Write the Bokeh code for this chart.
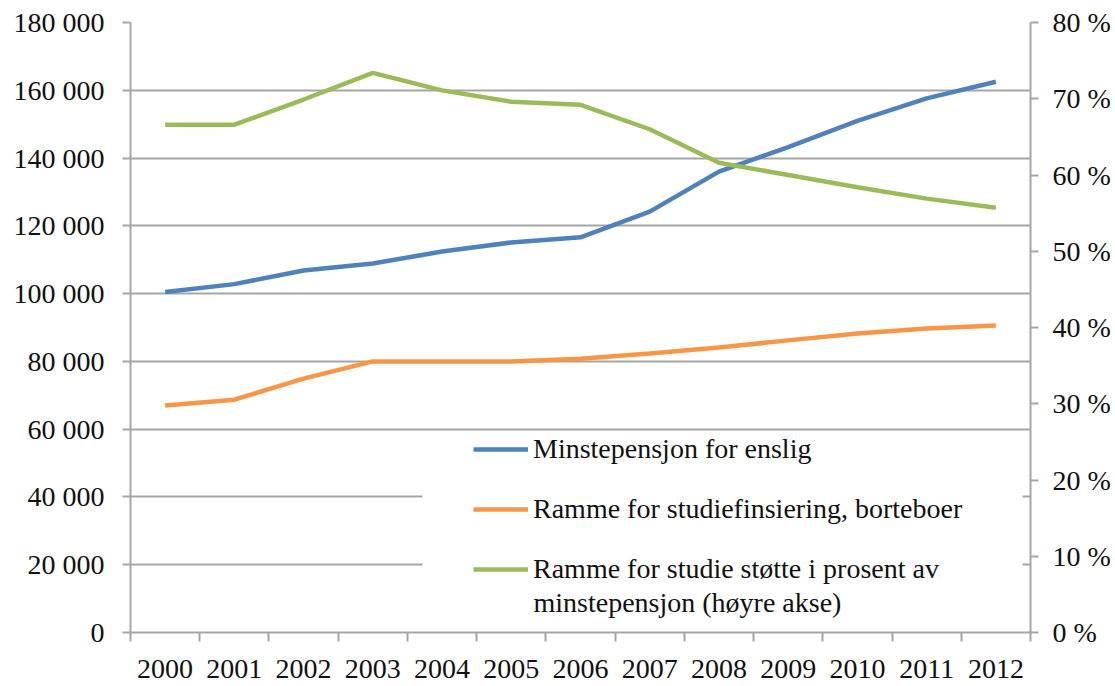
from bokeh.plotting import figure
from bokeh.models import (LinearAxis, Range1d, FixedTicker, Legend, LegendItem,
                          BoxAnnotation, Label)
from bokeh.embed import file_html
from bokeh.resources import INLINE

years = [2000, 2001, 2002, 2003, 2004, 2005, 2006, 2007, 2008, 2009, 2010, 2011, 2012]
minstepensjon = [100500, 102800, 106800, 108900, 112400, 115100, 116600,
                 124200, 136000, 143200, 151000, 157600, 162500]
studiefinansiering = [67000, 68700, 74900, 80000, 80000, 80000, 80800,
                      82300, 84100, 86200, 88200, 89700, 90600]
prosent = [66.6, 66.6, 69.9, 73.4, 71.1, 69.6, 69.2, 66.0, 61.6, 60.0, 58.4, 56.9, 55.7]

left_ticks = [0, 20000, 40000, 60000, 80000, 100000, 120000, 140000, 160000, 180000]
right_ticks = [0, 10, 20, 30, 40, 50, 60, 70, 80]

labels = ["Minstepensjon for enslig",
          "Ramme for studiefinsiering, borteboer",
          "Ramme for studie støtte i prosent av",
          "minstepensjon (høyre akse)"]

FONT = "Liberation Serif"
FS = "28px"
GRID = "#a6a6a6"
TXT = "#111111"
W, H = 1115, 686

p = figure(width=W, height=H, output_backend="svg", toolbar_location=None,
           x_range=Range1d(years[0] - 0.5, years[-1] + 0.5),
           y_range=Range1d(0, 180000),
           min_border_left=130, min_border_right=W - 1030,
           min_border_top=22, min_border_bottom=H - 632)
p.extra_y_ranges = {"pct": Range1d(0, 80)}
p.outline_line_color = None
p.background_fill_color = "white"
p.border_fill_color = "white"

# axes
p.xaxis.ticker = FixedTicker(ticks=years,
                             minor_ticks=[y - 0.5 for y in years] + [years[-1] + 0.5])
p.xaxis.major_label_overrides = {y: str(y) for y in years}
p.xaxis.major_tick_out = 0
p.xaxis.major_tick_in = 0
p.xaxis.minor_tick_out = 9
p.xaxis.minor_tick_in = 0
p.xaxis.minor_tick_line_color = GRID
p.xaxis.minor_tick_line_width = 2
p.xaxis.major_label_standoff = 18

p.yaxis.ticker = FixedTicker(ticks=left_ticks)
p.yaxis.major_label_overrides = {v: f"{v:,}".replace(",", " ") for v in left_ticks}
p.yaxis.major_tick_out = 8
p.yaxis.major_tick_in = 0
p.yaxis.minor_tick_line_color = None
p.yaxis.major_label_standoff = 18

raxis = LinearAxis(y_range_name="pct", ticker=FixedTicker(ticks=right_ticks),
                   major_label_overrides={v: f"{v} %" for v in right_ticks})
raxis.major_tick_out = 8
raxis.major_tick_in = 0
raxis.minor_tick_line_color = None
raxis.major_label_standoff = 14
p.add_layout(raxis, "right")

for ax in [p.xaxis[0], p.yaxis[0], raxis]:
    ax.axis_line_color = GRID
    ax.axis_line_width = 2
    ax.major_tick_line_color = GRID
    ax.major_tick_line_width = 2
    ax.major_label_text_font = FONT
    ax.major_label_text_font_size = FS
    ax.major_label_text_color = TXT

p.xgrid.grid_line_color = None
p.ygrid.ticker = FixedTicker(ticks=left_ticks)
p.ygrid.grid_line_color = GRID
p.ygrid.grid_line_width = 2

r1 = p.line(years, minstepensjon, line_color="#4F81BD", line_width=4.5)
r2 = p.line(years, studiefinansiering, line_color="#F79646", line_width=4.5)
r3 = p.line(years, prosent, line_color="#9BBB59", line_width=4.5, y_range_name="pct")

cover = BoxAnnotation(left=292, right=892, bottom=7, top=200,
                      left_units="screen", right_units="screen",
                      top_units="screen", bottom_units="screen",
                      fill_color="white", fill_alpha=1.0, line_alpha=0)
p.add_layout(cover)

legend = Legend(items=[LegendItem(label=labels[0], renderers=[r1]),
                       LegendItem(label=labels[1], renderers=[r2]),
                       LegendItem(label=labels[2], renderers=[r3])],
                location=(343, 47), padding=0, margin=0, spacing=28,
                glyph_width=55, glyph_height=20, label_standoff=5,
                label_text_font=FONT, label_text_font_size=FS,
                label_text_color=TXT,
                border_line_color=None, background_fill_alpha=0)
p.add_layout(legend)

cont = Label(x=403, y=30, x_units="screen", y_units="screen", text=labels[3],
             text_font=FONT, text_font_size=FS, text_color=TXT,
             text_align="left", text_baseline="middle")
p.add_layout(cont)

open("out.html", "w").write(file_html(p, INLINE))
